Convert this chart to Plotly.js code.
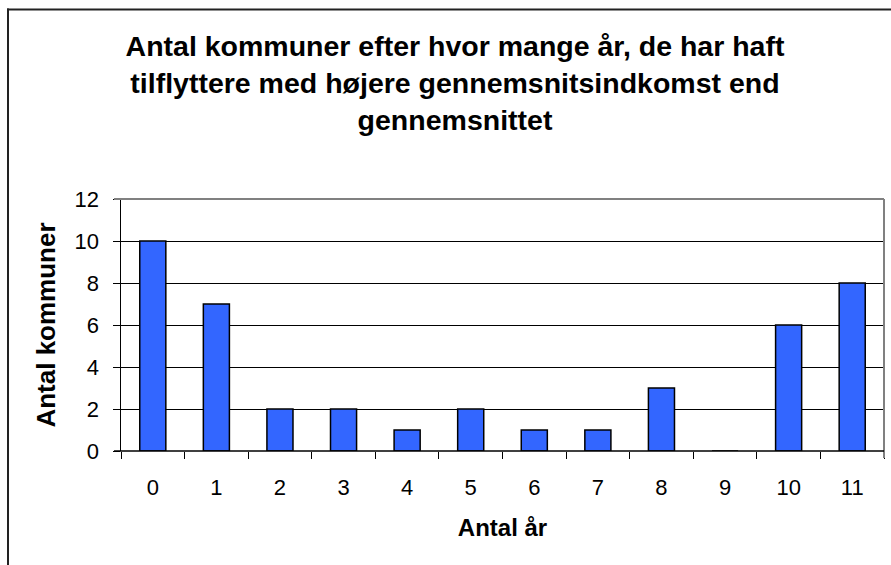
<!DOCTYPE html>
<html>
<head>
<meta charset="utf-8">
<script src="https://cdn.plot.ly/plotly-3.0.1.min.js"></script>
<style>html,body{margin:0;padding:0;background:#fff;}#chart{width:891px;height:565px;}</style>
</head>
<body>
<div id="chart"></div>
<script>
const categories = ["0","1","2","3","4","5","6","7","8","9","10","11"];
const values = [10, 7, 2, 2, 1, 2, 1, 1, 3, 0, 6, 8];
const yTicks = [0, 2, 4, 6, 8, 10, 12];
const titleText = "Antal kommuner efter hvor mange år, de har haft<br>tilflyttere med højere gennemsnitsindkomst end<br>gennemsnittet";
const xTitle = "Antal år";
const yTitle = "Antal kommuner";

const FONT = "Liberation Sans, Arial, sans-serif";
const W = 891, H = 565;
const L = 121, R = 884, T = 199, B = 451;
const pw = R - L, ph = B - T;
const px = v => (v - L) / pw;
const py = v => (B - v) / ph;

const trace = {
  type: 'bar',
  x: categories,
  y: values,
  marker: {color: '#3366FF', line: {color: '#000000', width: 1.5}},
  hoverinfo: 'skip'
};

const layout = {
  width: W, height: H,
  margin: {l: L, r: W - R, t: T, b: H - B, pad: 0},
  paper_bgcolor: '#ffffff',
  plot_bgcolor: '#ffffff',
  showlegend: false,
  bargap: 0.59,
  font: {family: FONT, color: '#000000'},
  title: {
    text: titleText,
    font: {family: FONT, size: 28.5, color: '#000000', weight: 'bold'},
    xref: 'container', x: 455 / W, xanchor: 'center',
    yref: 'container', y: 1 - 56 / H, yanchor: 'top'
  },
  xaxis: {
    type: 'category',
    tickson: 'boundaries',
    ticks: 'outside', ticklen: 7, tickcolor: '#000000', tickwidth: 1,
    showline: false, showgrid: false, zeroline: false,
    tickfont: {family: FONT, size: 22, color: '#000000'},
    ticklabelstandoff: 21,
    title: {text: xTitle, font: {family: FONT, size: 24, color: '#000000', weight: 'bold'}, standoff: 20},
    fixedrange: true
  },
  yaxis: {
    range: [0, 12],
    tickvals: yTicks,
    ticks: 'outside', ticklen: 7, tickcolor: '#000000', tickwidth: 1,
    showline: true, linecolor: '#000000', linewidth: 1.5,
    showgrid: true, gridcolor: '#000000', gridwidth: 1,
    zeroline: false,
    tickfont: {family: FONT, size: 22, color: '#000000'},
    ticklabelstandoff: 9,
    title: {text: yTitle, font: {family: FONT, size: 26, color: '#000000', weight: 'bold'}, standoff: 11},
    fixedrange: true
  },
  shapes: [
    // outer chart frame: left edge and top edge (as thin filled bands)
    {type: 'rect', xref: 'paper', yref: 'paper', x0: px(7), x1: px(9), y0: py(H), y1: py(8.5),
     fillcolor: '#222222', line: {width: 0}},
    {type: 'rect', xref: 'paper', yref: 'paper', x0: px(7), x1: px(W), y0: py(10.5), y1: py(8.5),
     fillcolor: '#222222', line: {width: 0}},
    // plot area border top and right (grey)
    {type: 'line', xref: 'paper', yref: 'paper', x0: px(114), x1: 1, y0: 1, y1: 1,
     line: {color: '#808080', width: 2}},
    {type: 'line', xref: 'paper', yref: 'paper', x0: 1, x1: 1, y0: py(458), y1: 1,
     line: {color: '#808080', width: 2}},
    // bottom axis line
    {type: 'line', xref: 'paper', yref: 'paper', x0: px(114), x1: 1, y0: 0, y1: 0,
     line: {color: '#000000', width: 1.5}}
  ]
};

Plotly.newPlot('chart', [trace], layout, {staticPlot: true, displayModeBar: false});
</script>
</body>
</html>
